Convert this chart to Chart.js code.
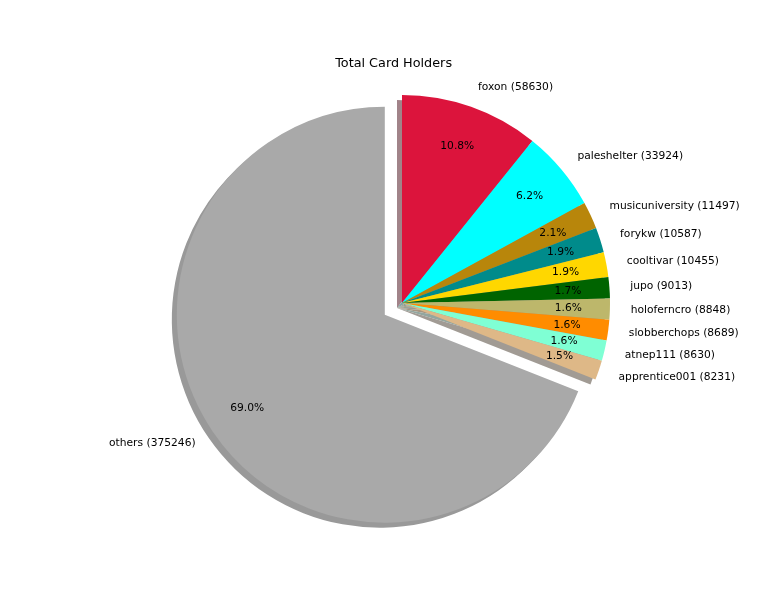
<!DOCTYPE html>
<html>
<head>
<meta charset="utf-8">
<title>Total Card Holders</title>
<script src="https://cdn.jsdelivr.net/npm/chart.js@4/dist/chart.umd.min.js"></script>
<style>
  html, body { margin: 0; padding: 0; background: #fff; }
  #wrap { width: 768px; height: 614px; }
</style>
</head>
<body>
<div id="wrap"><canvas id="pie" width="768" height="614"></canvas></div>
<script>
// donnees
const names = ["foxon", "paleshelter", "musicuniversity", "forykw", "cooltivar", "jupo",
               "holoferncro", "slobberchops", "atnep111", "apprentice001", "others"];
const holders = [58630, 33924, 11497, 10587, 10455, 9013, 8848, 8689, 8630, 8231, 375246];
const colors = ["#DC143C", "#00FFFF", "#B8860B", "#008B8B", "#FFD700", "#006400",
                "#BDB76B", "#FF8C00", "#7FFFD4", "#DEB887", "#A9A9A9"];
const explode = [0, 0, 0, 0, 0, 0, 0, 0, 0, 0, 0.1];

const FONT = "DejaVu Sans";
const total = holders.reduce((a, b) => a + b, 0);

// style matplotlib : part detachee (explode)
const explodePlugin = {
  id: "explode",
  afterDatasetUpdate(chart, args) {
    args.meta.data.forEach((arc, i) => {
      const f = explode[i] || 0;
      if (!f) return;
      const mid = (arc.startAngle + arc.endAngle) / 2;
      arc.x += Math.cos(mid) * f * arc.outerRadius;
      arc.y += Math.sin(mid) * f * arc.outerRadius;
    });
  }
};

// ombre sous chaque part (0.3 * couleur, alpha 0.5)
const shadowPlugin = {
  id: "pieShadow",
  beforeDatasetsDraw(chart) {
    const ctx = chart.ctx;
    const meta = chart.getDatasetMeta(0);
    meta.data.forEach((arc, i) => {
      const c = colors[i];
      const r = parseInt(c.slice(1, 3), 16), g = parseInt(c.slice(3, 5), 16), b = parseInt(c.slice(5, 7), 16);
      const mix = v => Math.round(0.15 * v + 127.5);
      ctx.save();
      ctx.fillStyle = "rgb(" + mix(r) + "," + mix(g) + "," + mix(b) + ")";
      ctx.beginPath();
      ctx.moveTo(arc.x - 5, arc.y + 5);
      ctx.arc(arc.x - 5, arc.y + 5, arc.outerRadius, arc.startAngle, arc.endAngle);
      ctx.closePath();
      ctx.fill();
      ctx.restore();
    });
  }
};

// libelles exterieurs + pourcentages
const labelsPlugin = {
  id: "pieLabels",
  afterDatasetsDraw(chart) {
    const ctx = chart.ctx;
    const meta = chart.getDatasetMeta(0);
    ctx.save();
    ctx.fillStyle = "#000";
    ctx.font = "10.7px '" + FONT + "'";
    ctx.textBaseline = "middle";
    meta.data.forEach((arc, i) => {
      const mid = (arc.startAngle + arc.endAngle) / 2;
      const cx = Math.cos(mid), cy = Math.sin(mid);
      const r = arc.outerRadius;
      ctx.textAlign = "center";
      ctx.fillText((holders[i] / total * 100).toFixed(1) + "%", arc.x + cx * 0.8 * r, arc.y + cy * 0.8 * r);
      ctx.textAlign = cx >= 0 ? "left" : "right";
      ctx.fillText(names[i] + " (" + holders[i] + ")", arc.x + cx * 1.1 * r, arc.y + cy * 1.1 * r);
    });
    // titre
    ctx.font = "12.8px '" + FONT + "'";
    ctx.textAlign = "center";
    ctx.textBaseline = "alphabetic";
    ctx.fillText("Total Card Holders", 393.6, 67);
    ctx.restore();
  }
};

new Chart(document.getElementById("pie"), {
  type: "pie",
  data: {
    labels: names,
    datasets: [{
      data: holders,
      backgroundColor: colors,
      borderWidth: 0,
      radius: 208
    }]
  },
  options: {
    responsive: false,
    animation: false,
    events: [],
    layout: { padding: { left: 36, right: 0, top: 0, bottom: 8 } },
    plugins: {
      legend: { display: false },
      tooltip: { enabled: false },
      title: { display: false }
    }
  },
  plugins: [explodePlugin, shadowPlugin, labelsPlugin]
});
</script>
</body>
</html>
